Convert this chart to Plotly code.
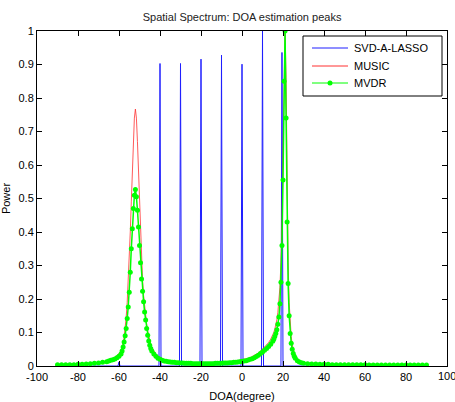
import plotly.graph_objects as go

# ---------------- data ----------------
lasso_deg = [-90, -60.5, -60, -59.5, -40.5, -40, -39.5, -30.5, -30, -29.5,
             -20.5, -20, -19.5, -10.5, -10, -9.5, -0.5, 0, 0.5,
             9.5, 10, 10.5, 19, 19.5, 20, 90]
lasso_pow = [0, 0, 0.012, 0, 0, 0.903, 0, 0, 0.903, 0,
             0, 0.916, 0, 0, 0.928, 0, 0, 0.901, 0,
             0, 1.0, 0, 0, 0.936, 0, 0]

doa_deg = [-90, -88, -86, -84, -82, -80, -78, -76, -74, -72, -70, -68, -66,
           -65, -64, -63, -62, -61, -60, -59,
           -58.5, -58, -57.5, -57, -56.5, -56, -55.5, -55, -54.5, -54,
           -53.5, -53, -52.5, -52, -51.5, -51, -50.5, -50, -49.5, -49,
           -48.5, -48, -47.5, -47, -46.5, -46, -45.5, -45, -44.5, -44,
           -43, -42, -41, -40, -39, -38, -37, -36, -35, -34, -33, -32, -31, -30,
           -29, -28, -27, -26, -25, -24, -23, -22, -21, -20, -19, -18, -17, -16,
           -15, -14, -13, -12, -11, -10, -9, -8, -7, -6, -5, -4, -3, -2, -1, 0,
           1, 2, 3, 4, 5, 6, 7, 8, 9, 10, 11, 12, 13, 14, 15,
           15.5, 16, 16.5, 17, 17.5, 18, 18.5, 19, 19.5, 20, 20.5, 21, 21.5,
           22, 22.5, 23, 23.5, 24, 24.5, 25, 25.5, 26,
           27, 28, 29, 30,
           32, 34, 36, 38, 40, 42, 44, 46, 48, 50, 52, 54, 56, 58, 60,
           62, 64, 66, 68, 70, 72, 74, 76, 78, 80, 82, 84, 86, 88, 90]

mvdr_pow = [0.004, 0.004, 0.004, 0.004, 0.004, 0.005, 0.005, 0.006, 0.007, 0.008, 0.009, 0.011, 0.013,
            0.015, 0.017, 0.019, 0.021, 0.025, 0.029, 0.036,
            0.045, 0.057, 0.072, 0.090, 0.112, 0.142, 0.176, 0.220, 0.280, 0.350,
            0.410, 0.470, 0.510, 0.527, 0.505, 0.465, 0.415, 0.360, 0.308, 0.260,
            0.223, 0.192, 0.161, 0.137, 0.112, 0.092, 0.075, 0.062, 0.052, 0.045,
            0.036, 0.029, 0.023, 0.020, 0.017, 0.015, 0.014, 0.013, 0.012, 0.011, 0.011, 0.010, 0.010, 0.009,
            0.009, 0.008, 0.008, 0.008, 0.008, 0.007, 0.007, 0.007, 0.007, 0.007, 0.007, 0.007, 0.007, 0.007,
            0.007, 0.007, 0.008, 0.008, 0.008, 0.008, 0.009, 0.009, 0.009, 0.010, 0.010, 0.011, 0.011, 0.012, 0.013, 0.014,
            0.015, 0.016, 0.018, 0.020, 0.022, 0.025, 0.028, 0.032, 0.037, 0.042, 0.047, 0.052, 0.058, 0.065, 0.074,
            0.080, 0.088, 0.097, 0.108, 0.125, 0.146, 0.186, 0.250, 0.360, 0.555, 0.850, 1.000, 0.740,
            0.430, 0.246, 0.150, 0.097, 0.068, 0.050, 0.037, 0.029, 0.023,
            0.016, 0.012, 0.010, 0.008,
            0.007, 0.006, 0.006, 0.005, 0.005, 0.005, 0.004, 0.004, 0.004, 0.004, 0.004, 0.004, 0.004, 0.004, 0.004,
            0.003, 0.003, 0.003, 0.003, 0.003, 0.003, 0.003, 0.003, 0.003, 0.003, 0.003, 0.003, 0.003, 0.003, 0.003]

music_pow = [0.005, 0.005, 0.005, 0.005, 0.005, 0.006, 0.006, 0.007, 0.008, 0.009, 0.010, 0.012, 0.015,
             0.017, 0.019, 0.022, 0.026, 0.031, 0.037, 0.045,
             0.055, 0.068, 0.085, 0.110, 0.145, 0.190, 0.250, 0.320, 0.400, 0.490,
             0.580, 0.670, 0.740, 0.767, 0.740, 0.670, 0.580, 0.480, 0.390, 0.315,
             0.255, 0.210, 0.175, 0.148, 0.125, 0.105, 0.088, 0.075, 0.064, 0.055,
             0.044, 0.036, 0.029, 0.025, 0.022, 0.019, 0.017, 0.016, 0.015, 0.014, 0.013, 0.012, 0.012, 0.011,
             0.011, 0.010, 0.010, 0.010, 0.009, 0.009, 0.009, 0.009, 0.009, 0.009, 0.009, 0.009, 0.009, 0.009,
             0.009, 0.009, 0.010, 0.010, 0.010, 0.010, 0.011, 0.011, 0.012, 0.012, 0.013, 0.014, 0.015, 0.016, 0.017, 0.018,
             0.019, 0.021, 0.023, 0.025, 0.028, 0.031, 0.035, 0.039, 0.044, 0.050, 0.056, 0.062, 0.070, 0.080, 0.092,
             0.100, 0.110, 0.122, 0.138, 0.160, 0.190, 0.235, 0.310, 0.430, 0.640, 0.900, 1.000, 0.860,
             0.540, 0.310, 0.190, 0.125, 0.088, 0.064, 0.048, 0.038, 0.031,
             0.021, 0.016, 0.013, 0.011,
             0.009, 0.008, 0.007, 0.007, 0.006, 0.006, 0.006, 0.005, 0.005, 0.005, 0.005, 0.005, 0.005, 0.005, 0.005,
             0.004, 0.004, 0.004, 0.004, 0.004, 0.004, 0.004, 0.004, 0.004, 0.004, 0.004, 0.004, 0.004, 0.004, 0.004]

series_names = ["SVD-A-LASSO", "MUSIC", "MVDR"]
series_colors = ["#1f1fff", "#ff3030", "#00ff00"]

x_ticks = [-100, -80, -60, -40, -20, 0, 20, 40, 60, 80, 100]
x_tick_text = ["-100", "-80", "-60", "-40", "-20", "0", "20", "40", "60", "80", "100"]
y_ticks = [0, 0.1, 0.2, 0.3, 0.4, 0.5, 0.6, 0.7, 0.8, 0.9, 1]
y_tick_text = ["0", "0.1", "0.2", "0.3", "0.4", "0.5", "0.6", "0.7", "0.8", "0.9", "1"]

FONT = "Liberation Sans, Arial, sans-serif"
W, H = 455, 402
ML, MR, MT, MB = 37, 8, 31, 36
PW, PH = W - ML - MR, H - MT - MB


def px_x(p):
    return (p - ML) / PW


def px_y(p):
    return (H - MB - p) / PH


fig = go.Figure()
fig.add_trace(go.Scatter(x=lasso_deg, y=lasso_pow, mode="lines", name=series_names[0],
                         line=dict(color=series_colors[0], width=1)))
fig.add_trace(go.Scatter(x=doa_deg, y=music_pow, mode="lines", name=series_names[1],
                         line=dict(color=series_colors[1], width=0.8)))
fig.add_trace(go.Scatter(x=doa_deg, y=mvdr_pow, mode="lines+markers", name=series_names[2],
                         line=dict(color=series_colors[2], width=1.5),
                         marker=dict(color=series_colors[2], size=5)))

axis_common = dict(showline=True, linecolor="black", linewidth=1, mirror="ticks",
                   ticks="inside", ticklen=5, tickcolor="black", showgrid=False,
                   zeroline=False, automargin=False,
                   tickfont=dict(family=FONT, size=11, color="black"))

# the last x tick label ("100") runs past the page edge, so it is drawn as an annotation
x_tick_text_axis = x_tick_text[:-1] + [""]

shapes = []
annotations = [dict(x=px_x(437), y=0, xref="paper", yref="paper", text=x_tick_text[-1],
                    showarrow=False, xanchor="left", yanchor="top", yshift=-3,
                    borderpad=0, font=dict(family=FONT, size=11, color="black"))]

# legend box (manual, to match the compact MATLAB legend)
box_l, box_r, box_t, box_b = 303, 442, 36, 96
shapes.append(dict(type="rect", xref="paper", yref="paper",
                   x0=px_x(box_l), x1=px_x(box_r), y0=px_y(box_b), y1=px_y(box_t),
                   line=dict(color="black", width=1), fillcolor="white", layer="above"))
row_y = [48, 66, 83]
for i, name in enumerate(series_names):
    shapes.append(dict(type="line", xref="paper", yref="paper",
                       x0=px_x(312), x1=px_x(348), y0=px_y(row_y[i]), y1=px_y(row_y[i]),
                       line=dict(color=series_colors[i], width=1), layer="above"))
    annotations.append(dict(x=px_x(352), y=px_y(row_y[i]), xref="paper", yref="paper",
                            text=name, showarrow=False, xanchor="left", yanchor="middle",
                            font=dict(family=FONT, size=11, color="black")))
shapes.append(dict(type="circle", xref="paper", yref="paper",
                   x0=px_x(327.5), x1=px_x(332.5), y0=px_y(row_y[2] + 2.5), y1=px_y(row_y[2] - 2.5),
                   line=dict(color=series_colors[2], width=0), fillcolor=series_colors[2],
                   layer="above"))

fig.update_layout(
    width=W, height=H,
    margin=dict(l=ML, r=MR, t=MT, b=MB),
    paper_bgcolor="white", plot_bgcolor="white",
    font=dict(family=FONT, size=11, color="black"),
    title=dict(text="Spatial Spectrum: DOA estimation peaks", x=0.532, xanchor="center",
               y=0.958, yanchor="middle", font=dict(family=FONT, size=11, color="#222222")),
    xaxis=dict(range=[-100, 100], tickvals=x_ticks, ticktext=x_tick_text_axis,
               ticklabelstandoff=1,
               title=dict(text="DOA(degree)", font=dict(family=FONT, size=11)),
               **axis_common),
    yaxis=dict(range=[0, 1], tickvals=y_ticks, ticktext=y_tick_text,
               title=dict(text="Power", font=dict(family=FONT, size=11)),
               **axis_common),
    showlegend=False,
    shapes=shapes,
    annotations=annotations,
)

fig.write_html("out.html")
